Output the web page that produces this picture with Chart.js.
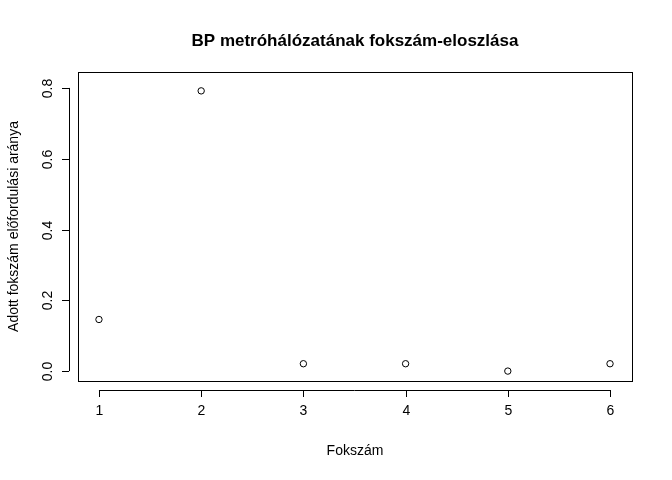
<!DOCTYPE html>
<html>
<head>
<meta charset="utf-8">
<script src="https://cdn.jsdelivr.net/npm/chart.js@4/dist/chart.umd.min.js"></script>
<style>body{margin:0;background:#fff}</style>
</head>
<body>
<canvas id="c" width="672" height="480"></canvas>
<script>
const degrees = [1, 2, 3, 4, 5, 6];
const shares = [0.1458, 0.7917, 0.0208, 0.0208, 0, 0.0208];
const xTicks = [1, 2, 3, 4, 5, 6];
const yTicks = [0, 0.2, 0.4, 0.6, 0.8];
const yTickLabels = ['0.0', '0.2', '0.4', '0.6', '0.8'];

const rAxes = {
    id: 'rAxes',
    afterDraw(chart) {
        const ctx = chart.ctx, a = chart.chartArea;
        const xs = chart.scales.x, ys = chart.scales.y;
        ctx.save();
        ctx.strokeStyle = '#000';
        ctx.lineWidth = 1;
        ctx.strokeRect(a.left + 0.5, a.top + 0.5, a.right - a.left, a.bottom - a.top);
        ctx.fillStyle = '#000';
        ctx.font = '14px "Liberation Sans", Arial';

        // x axis
        const xa = a.bottom + 9;
        ctx.beginPath();
        ctx.moveTo(xs.getPixelForValue(xTicks[0]), xa + 0.5);
        ctx.lineTo(xs.getPixelForValue(xTicks[xTicks.length - 1]), xa + 0.5);
        ctx.textAlign = 'center';
        ctx.textBaseline = 'middle';
        xTicks.forEach(t => {
            const px = Math.round(xs.getPixelForValue(t)) + 0.5;
            ctx.moveTo(px, xa);
            ctx.lineTo(px, xa + 7);
            ctx.fillText(String(t), px, xa + 21);
        });
        ctx.stroke();

        // y axis
        const ya = a.left - 9;
        ctx.beginPath();
        ctx.moveTo(ya + 0.5, ys.getPixelForValue(yTicks[0]));
        ctx.lineTo(ya + 0.5, ys.getPixelForValue(yTicks[yTicks.length - 1]));
        yTicks.forEach((t, i) => {
            const py = Math.round(ys.getPixelForValue(t)) + 0.5;
            ctx.moveTo(ya, py);
            ctx.lineTo(ya - 7, py);
            ctx.save();
            ctx.translate(ya - 21, py);
            ctx.rotate(-Math.PI / 2);
            ctx.fillText(yTickLabels[i], 0, 0);
            ctx.restore();
        });
        ctx.stroke();

        // titles
        ctx.font = 'bold 17px "Liberation Sans", Arial';
        ctx.fillText('BP metróhálózatának fokszám-eloszlása', (a.left + a.right) / 2, 41);
        ctx.font = '14px "Liberation Sans", Arial';
        ctx.fillText('Fokszám', (a.left + a.right) / 2, 451);
        ctx.save();
        ctx.translate(14, (a.top + a.bottom) / 2);
        ctx.rotate(-Math.PI / 2);
        ctx.fillText('Adott fokszám előfordulási aránya', 0, 0);
        ctx.restore();
        ctx.restore();
    }
};

new Chart(document.getElementById('c'), {
    type: 'scatter',
    data: {
        datasets: [{
            data: degrees.map((d, i) => ({x: d, y: shares[i]})),
            backgroundColor: 'rgba(0,0,0,0)',
            borderColor: '#000',
            borderWidth: 1,
            pointRadius: 3.2
        }]
    },
    options: {
        responsive: false,
        animation: false,
        layout: {padding: {left: 78, top: 72, right: 40, bottom: 99}},
        plugins: {legend: {display: false}, tooltip: {enabled: false}},
        scales: {
            x: {type: 'linear', display: false, min: 0.795, max: 6.215},
            y: {type: 'linear', display: false, min: -0.028, max: 0.845}
        }
    },
    plugins: [rAxes]
});
</script>
</body>
</html>
